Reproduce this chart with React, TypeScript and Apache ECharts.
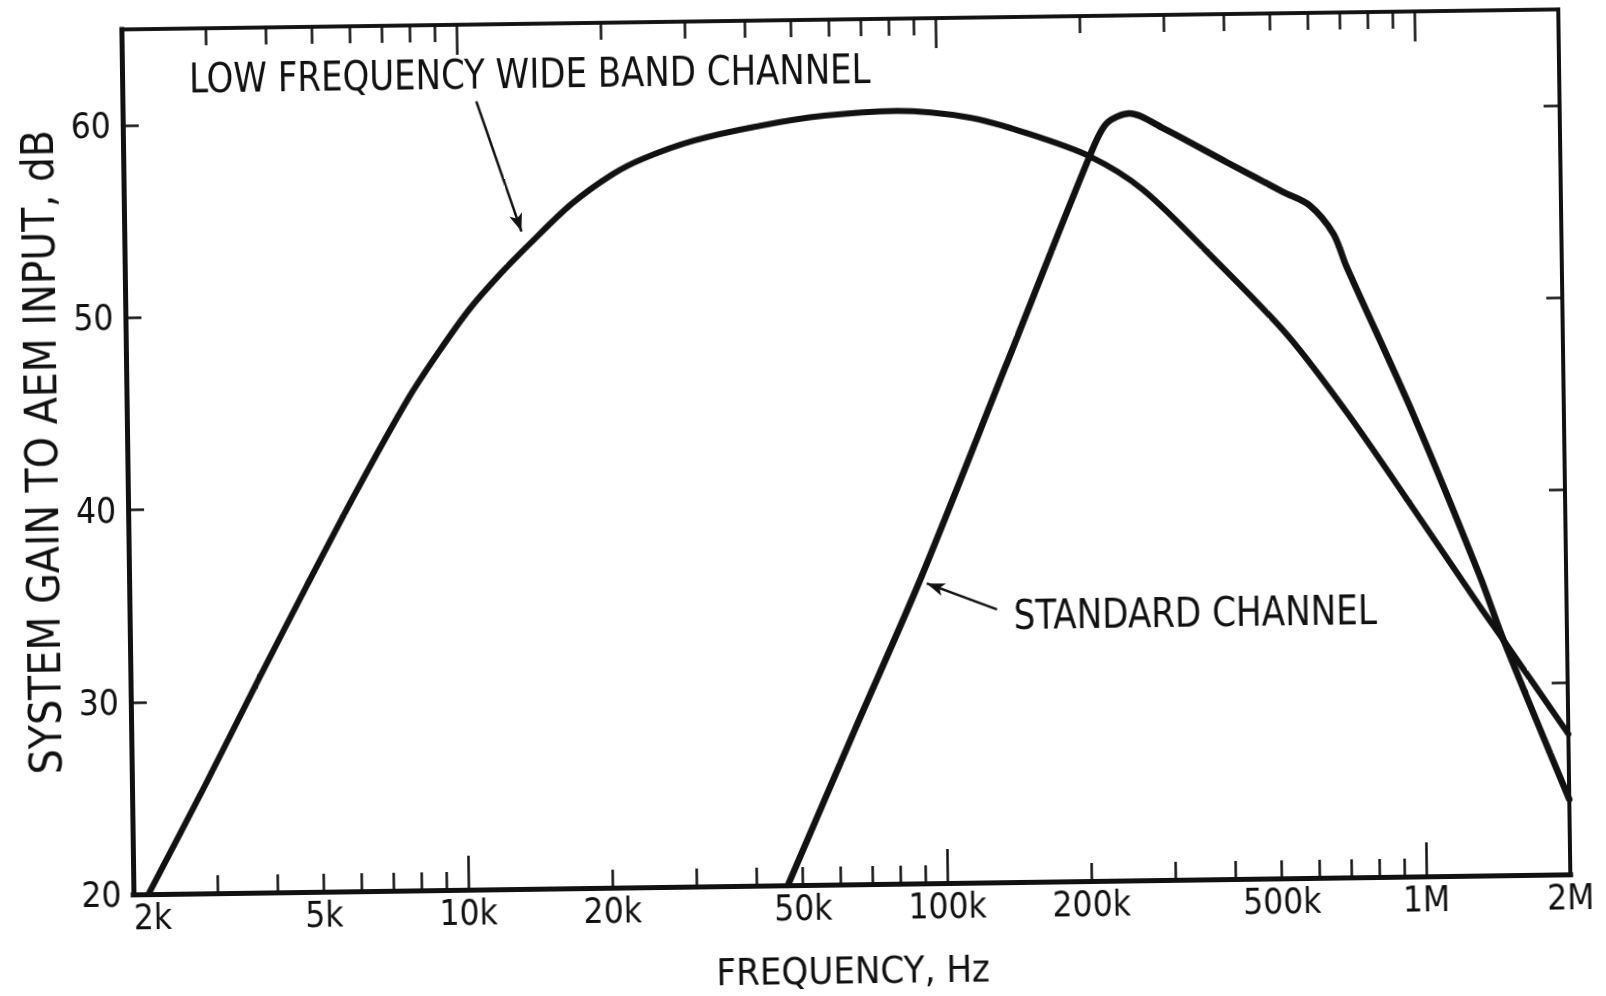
import React, { useEffect, useRef } from "react";
import * as echarts from "echarts";

// Frequency (Hz) / system gain (dB) for the low frequency wide band channel
const wideBandFreq = [
  2150, 2840, 3650, 4690, 6030, 7750, 9000, 10460, 12150, 14100, 17210, 20960,
  24330, 31100, 42200, 58300, 82800, 117300, 151900, 208200, 269200, 375300,
  530400, 704000, 966000, 1318000, 1476000, 2000000,
];
const wideBandGain = [
  20.0, 25.6, 30.8, 35.9, 40.9, 45.6, 48.0, 50.2, 52.0, 53.6, 55.6, 57.1,
  57.9, 58.8, 59.5, 60.0, 60.2, 59.8, 59.0, 57.7, 55.9, 52.3,
  48.3, 44.2, 39.1, 34.0, 32.2, 27.3,
];

// Frequency (Hz) / system gain (dB) for the standard channel
const standardFreq = [
  46500, 64700, 90000, 136900, 208200, 226300, 252900, 297300, 401500, 527000,
  596800, 668300, 709800, 971000, 1320000, 1476000, 2000000,
];
const standardGain = [
  20.0, 28.0, 35.9, 46.8, 57.7, 59.4, 59.9, 59.1, 57.3, 55.7,
  55.0, 53.5, 51.8, 44.0, 35.6, 32.2, 23.9,
];

// Axis ticks and labels
const freqLabels = [2000, 5000, 10000, 20000, 50000, 100000, 200000, 500000, 1000000, 2000000];
const freqMinorTicks = [
  3000, 4000, 5000, 6000, 7000, 8000, 9000,
  20000, 30000, 40000, 50000, 60000, 70000, 80000, 90000,
  200000, 300000, 400000, 500000, 600000, 700000, 800000, 900000,
];
const freqDecadeTicks = [10000, 100000, 1000000];
const gainLabels = [20, 30, 40, 50, 60];
const gainTicks = [30, 40, 50, 60];

// Annotation arrows: [tail freq, tail gain, head freq, head gain]
const wideBandArrow = [10960, 61.0, 13500, 54.2];
const standardArrow = [129400, 34.2, 92500, 35.6];

const INK = "#111";
const NARROW = '"DejaVu Sans Condensed", "Liberation Sans Narrow", "DejaVu Sans", sans-serif';

const fmtFreq = (v: number) => (v >= 1e6 ? `${v / 1e6}M` : `${v / 1000}k`);

function freqAxis(position: "bottom" | "top", ticks: number[], len: number, withLabels: boolean, lineWidth: number) {
  return {
    type: "log",
    logBase: 10,
    min: 2000,
    max: 2000000,
    position,
    axisLine: { show: true, lineStyle: { color: INK, width: lineWidth, cap: "square" } },
    axisTick: {
      show: true,
      inside: true,
      length: len,
      customValues: ticks,
      lineStyle: { color: INK, width: 2.5 },
    },
    minorTick: { show: false },
    splitLine: { show: false },
    axisLabel: withLabels
      ? {
          show: true,
          customValues: freqLabels,
          formatter: (v: number) => fmtFreq(v),
          alignMinLabel: "left",
          color: INK,
          fontFamily: NARROW,
          fontSize: 35,
          margin: 5,
        }
      : { show: false },
  };
}

function gainAxis(position: "left" | "right", withLabels: boolean, lineWidth: number) {
  return {
    type: "value",
    min: 20,
    max: 65,
    position,
    axisLine: { show: true, lineStyle: { color: INK, width: lineWidth, cap: "square" } },
    axisTick: {
      show: true,
      inside: true,
      length: 16,
      customValues: gainTicks,
      lineStyle: { color: INK, width: 2.5 },
    },
    splitLine: { show: false },
    axisLabel: withLabels
      ? {
          show: true,
          customValues: gainLabels,
          color: INK,
          fontFamily: NARROW,
          fontSize: 35,
          margin: 12,
        }
      : { show: false },
  };
}

function arrowLine(a: number[], size: number[]) {
  return {
    silent: true,
    symbol: ["none", "arrow"],
    symbolSize: size,
    label: { show: false },
    lineStyle: { color: INK, width: 2.5, type: "solid" },
    emphasis: { disabled: true },
    data: [[{ coord: [a[0], a[1]] }, { coord: [a[2], a[3]] }]],
  };
}

export default function App() {
  const ref = useRef<HTMLDivElement>(null);

  useEffect(() => {
    if (!ref.current) return;
    const chart = echarts.init(ref.current, undefined, { renderer: "svg" });

    const wideBand = wideBandFreq.map((f, i) => [f, wideBandGain[i]]);
    const standard = standardFreq.map((f, i) => [f, standardGain[i]]);

    const xMain: any = freqAxis("bottom", freqMinorTicks, 18, true, 5);
    xMain.name = "FREQUENCY, Hz";
    xMain.nameLocation = "middle";
    xMain.nameGap = 86;
    xMain.nameTextStyle = { color: INK, fontFamily: NARROW, fontSize: 38, verticalAlign: "middle" };

    const yMain: any = gainAxis("left", true, 5);
    yMain.name = "SYSTEM GAIN TO AEM INPUT, dB";
    yMain.nameLocation = "middle";
    yMain.nameGap = 86;
    yMain.nameTextStyle = {
      color: INK,
      fontFamily: NARROW,
      fontSize: 44,
      verticalAlign: "middle",
      padding: [0, 0, 0, 22],
    };

    chart.setOption({
      animation: false,
      backgroundColor: "#fff",
      grid: { left: 128, right: 41, top: 20, bottom: 111, containLabel: false },
      xAxis: [
        xMain,
        freqAxis("bottom", freqDecadeTicks, 34, false, 5),
        freqAxis("top", freqMinorTicks, 17, false, 3.5),
        freqAxis("top", freqDecadeTicks, 30, false, 3.5),
      ],
      yAxis: [yMain, gainAxis("right", false, 4)],
      graphic: [
        {
          type: "text",
          x: 195,
          y: 50,
          scaleX: 0.945,
          style: {
            text: "LOW FREQUENCY WIDE BAND CHANNEL",
            fill: INK,
            font: `40px ${NARROW}`,
          },
        },
        {
          type: "text",
          x: 1012,
          y: 598,
          scaleX: 0.95,
          style: {
            text: "STANDARD CHANNEL",
            fill: INK,
            font: `40px ${NARROW}`,
          },
        },
      ],
      series: [
        {
          name: "LOW FREQUENCY WIDE BAND CHANNEL",
          type: "line",
          xAxisIndex: 0,
          yAxisIndex: 0,
          data: wideBand,
          smooth: 0.3,
          showSymbol: false,
          lineStyle: { color: INK, width: 6, cap: "round", join: "round" },
          markLine: arrowLine(wideBandArrow, [10, 18]),
        },
        {
          name: "STANDARD CHANNEL",
          type: "line",
          xAxisIndex: 0,
          yAxisIndex: 0,
          data: standard,
          smooth: 0.3,
          showSymbol: false,
          lineStyle: { color: INK, width: 6.5, cap: "round", join: "round" },
          markLine: arrowLine(standardArrow, [10, 18]),
        },
      ],
    });

    return () => chart.dispose();
  }, []);

  return (
    <div
      ref={ref}
      style={{
        position: "fixed",
        left: 0,
        top: 0,
        width: 1606,
        height: 996,
        background: "#fff",
        transform: "rotate(-0.8deg)",
      }}
    />
  );
}
